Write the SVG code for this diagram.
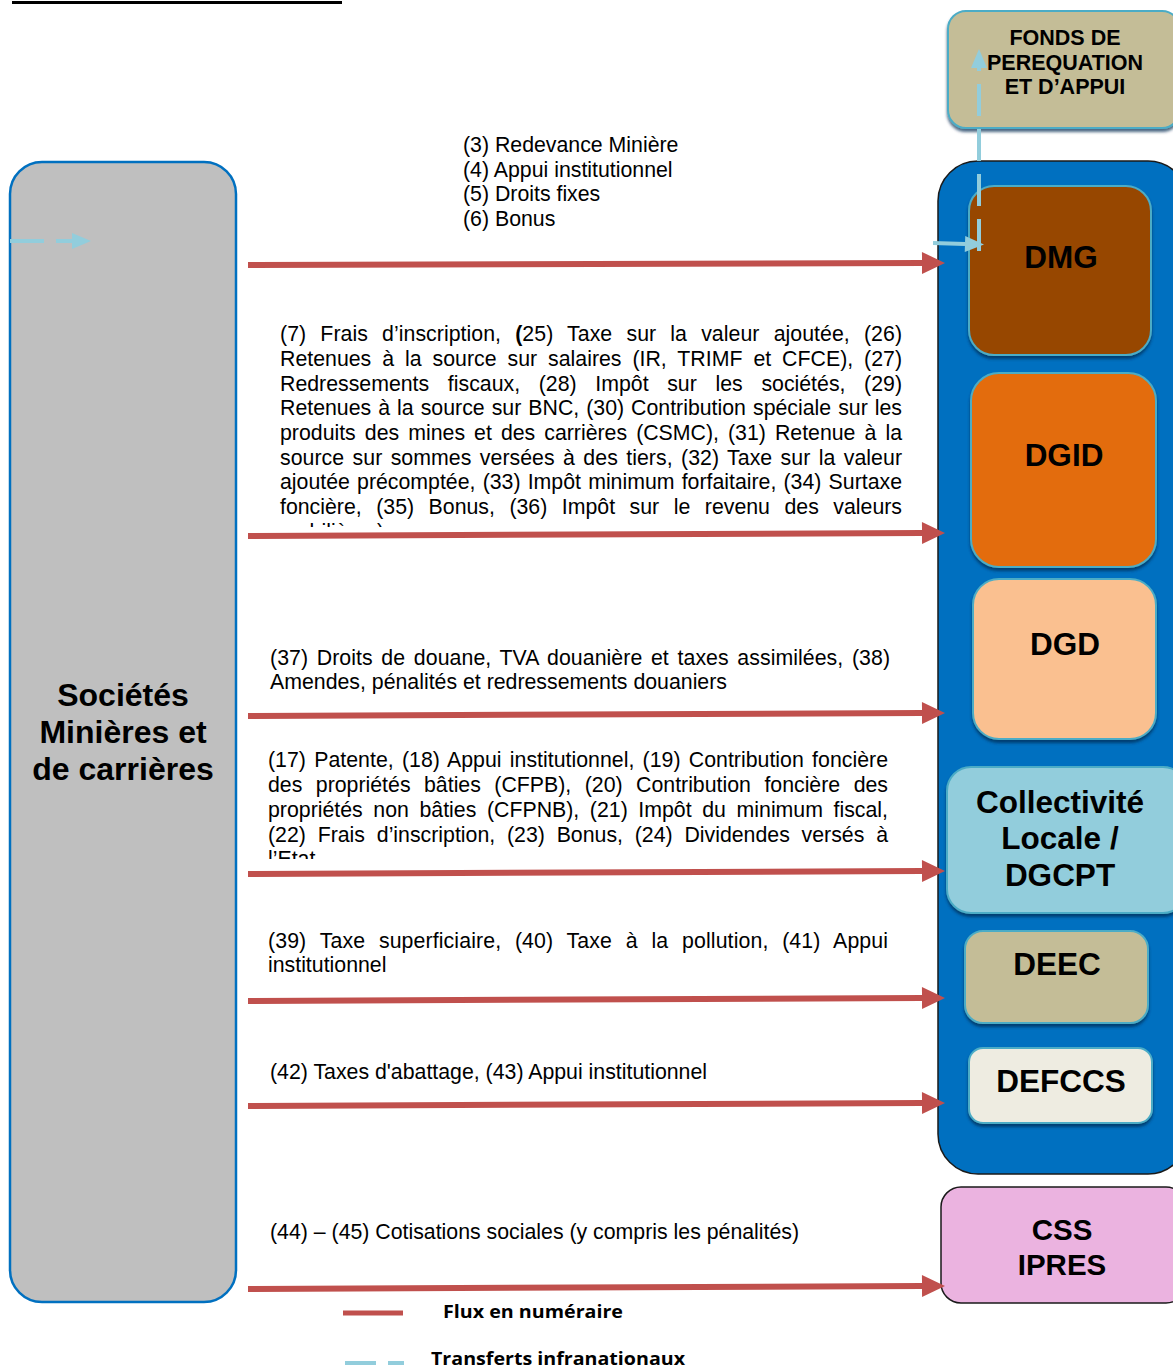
<svg xmlns="http://www.w3.org/2000/svg" width="1173" height="1371" viewBox="0 0 1173 1371">
<style>
.t{font-family:"Liberation Sans",Arial,sans-serif;font-size:21.3px;fill:#000}
.b{font-family:"Liberation Sans",Arial,sans-serif;font-weight:bold;fill:#000;text-anchor:middle}
.flow{stroke:#C0504D;stroke-width:6;fill:none}
.dash{stroke:#92CDDC;stroke-width:4;fill:none}
.inner{stroke:#4BACC6;stroke-width:2}
.leg{font-family:"Open Sans","Liberation Sans",sans-serif;font-weight:bold;font-size:18px;fill:#000}
</style>
<defs>
<marker id="ar" markerUnits="userSpaceOnUse" markerWidth="24" markerHeight="24" refX="0" refY="11" orient="auto" overflow="visible">
<path d="M0,0 L23,11 L0,22 z" fill="#C0504D"/>
</marker>
<marker id="ab" markerUnits="userSpaceOnUse" markerWidth="20" markerHeight="20" refX="0" refY="8" orient="auto" overflow="visible">
<path d="M0,0 L19,8 L0,16 z" fill="#92CDDC"/>
</marker>
<filter id="sh" x="-10%" y="-10%" width="120%" height="125%">
<feDropShadow dx="0" dy="3" stdDeviation="1.5" flood-color="#002850" flood-opacity="0.7"/>
</filter>
<clipPath id="c2"><rect x="270" y="320" width="650" height="207"/></clipPath>
<clipPath id="c4"><rect x="260" y="745" width="650" height="114"/></clipPath>
</defs>

<line x1="12" y1="2.5" x2="342" y2="2.5" stroke="#000" stroke-width="3"/>

<g id="societes">
<rect x="10" y="162" width="226" height="1140" rx="32" fill="#BFBFBF" stroke="#0070C0" stroke-width="2.5"/>
<text class="b" font-size="32" x="123" y="706">Sociétés</text>
<text class="b" font-size="32" x="123" y="743">Minières et</text>
<text class="b" font-size="32" x="123" y="780">de carrières</text>
</g>

<g id="fonds">
<rect x="948" y="11" width="232" height="117" rx="18" fill="#C4BD97" stroke="#4BACC6" stroke-width="2" filter="url(#sh)"/>
<text class="b" font-size="21.5" x="1065" y="45">FONDS DE</text>
<text class="b" font-size="21.5" x="1065" y="70">PEREQUATION</text>
<text class="b" font-size="21.5" x="1065" y="94">ET D’APPUI</text>
</g>

<g id="etat">
<rect x="938" y="161" width="250" height="1013" rx="40" fill="#0070C0" stroke="#1a1a1a" stroke-width="1.5"/>
</g>

<g id="dmg">
<rect x="969" y="186" width="182" height="169" rx="25" fill="#974706" class="inner" filter="url(#sh)"/>
<text class="b" font-size="31.5" x="1061" y="268">DMG</text>
</g>
<g id="dgid">
<rect x="971" y="373" width="185" height="194" rx="28" fill="#E36C09" class="inner" filter="url(#sh)"/>
<text class="b" font-size="31.5" x="1064" y="466">DGID</text>
</g>
<g id="dgd">
<rect x="973" y="579" width="183" height="160" rx="26" fill="#FAC090" class="inner" filter="url(#sh)"/>
<text class="b" font-size="31.5" x="1065" y="655">DGD</text>
</g>
<g id="collectivite">
<rect x="947" y="767" width="240" height="146" rx="24" fill="#92CDDC" class="inner" filter="url(#sh)"/>
<text class="b" font-size="31.5" x="1060" y="813">Collectivité</text>
<text class="b" font-size="31.5" x="1060" y="849">Locale /</text>
<text class="b" font-size="31.5" x="1060" y="886">DGCPT</text>
</g>
<g id="deec">
<rect x="965" y="931" width="183" height="92" rx="18" fill="#C4BD97" class="inner" filter="url(#sh)"/>
<text class="b" font-size="31.5" x="1057" y="975">DEEC</text>
</g>
<g id="defccs">
<rect x="969" y="1048" width="183" height="75" rx="14" fill="#EEECE1" class="inner" filter="url(#sh)"/>
<text class="b" font-size="31.5" x="1061" y="1092">DEFCCS</text>
</g>
<g id="css">
<rect x="941" y="1187" width="245" height="116" rx="20" fill="#EBB3E0" stroke="#1a1a1a" stroke-width="1.5"/>
<text class="b" font-size="29.5" x="1062" y="1240">CSS</text>
<text class="b" font-size="29.5" x="1062" y="1275">IPRES</text>
</g>

<g id="connectors">
<line class="flow" x1="248" y1="265" x2="922" y2="263" marker-end="url(#ar)"/>
<line class="flow" x1="248" y1="536" x2="922" y2="533" marker-end="url(#ar)"/>
<line class="flow" x1="248" y1="716" x2="922" y2="713" marker-end="url(#ar)"/>
<line class="flow" x1="248" y1="874" x2="922" y2="871" marker-end="url(#ar)"/>
<line class="flow" x1="248" y1="1001" x2="922" y2="998" marker-end="url(#ar)"/>
<line class="flow" x1="248" y1="1106" x2="922" y2="1103" marker-end="url(#ar)"/>
<line class="flow" x1="248" y1="1289" x2="922" y2="1286" marker-end="url(#ar)"/>
<line class="dash" x1="10" y1="241" x2="72" y2="241" stroke-dasharray="34 12" marker-end="url(#ab)"/>
<line class="dash" x1="933" y1="243" x2="965" y2="244" marker-end="url(#ab)"/>
<line class="dash" x1="979" y1="251" x2="979" y2="68" stroke-dasharray="32 13" marker-end="url(#ab)"/>
</g>

<g id="labels">
<text class="t" x="463" y="152">(3) Redevance Minière</text>
<text class="t" x="463" y="177">(4) Appui institutionnel</text>
<text class="t" x="463" y="201">(5) Droits fixes</text>
<text class="t" x="463" y="226">(6) Bonus</text>

<g clip-path="url(#c2)">
<text class="t" x="280" y="341" word-spacing="8.22" textLength="622" lengthAdjust="spacing">(7) Frais d’inscription, <tspan font-weight="bold">(</tspan>25) Taxe sur la valeur ajoutée, (26)</text>
<text class="t" x="280" y="366" word-spacing="5.03" textLength="622" lengthAdjust="spacing">Retenues à la source sur salaires (IR, TRIMF et CFCE), (27)</text>
<text class="t" x="280" y="391" word-spacing="12.76" textLength="622" lengthAdjust="spacing">Redressements fiscaux, (28) Impôt sur les sociétés, (29)</text>
<text class="t" x="280" y="415" word-spacing="1.12" textLength="622" lengthAdjust="spacing">Retenues à la source sur BNC, (30) Contribution spéciale sur les</text>
<text class="t" x="280" y="440" word-spacing="3.13" textLength="622" lengthAdjust="spacing">produits des mines et des carrières (CSMC), (31) Retenue à la</text>
<text class="t" x="280" y="465" word-spacing="2.42" textLength="622" lengthAdjust="spacing">source sur sommes versées à des tiers, (32) Taxe sur la valeur</text>
<text class="t" x="280" y="489" word-spacing="1.26" textLength="622" lengthAdjust="spacing">ajoutée précomptée, (33) Impôt minimum forfaitaire, (34) Surtaxe</text>
<text class="t" x="280" y="514" word-spacing="8.6" textLength="622" lengthAdjust="spacing">foncière, (35) Bonus, (36) Impôt sur le revenu des valeurs</text>
<text class="t" x="280" y="539">mobilières)</text>
</g>

<text class="t" x="270" y="665" word-spacing="2.72" textLength="620" lengthAdjust="spacing">(37) Droits de douane, TVA douanière et taxes assimilées, (38)</text>
<text class="t" x="270" y="689">Amendes, pénalités et redressements douaniers</text>

<g clip-path="url(#c4)">
<text class="t" x="268" y="767" word-spacing="2.31" textLength="620" lengthAdjust="spacing">(17) Patente, (18) Appui institutionnel, (19) Contribution foncière</text>
<text class="t" x="268" y="792" word-spacing="7.57" textLength="620" lengthAdjust="spacing">des propriétés bâties (CFPB), (20) Contribution foncière des</text>
<text class="t" x="268" y="817" word-spacing="4.7" textLength="620" lengthAdjust="spacing">propriétés non bâties (CFPNB), (21) Impôt du minimum fiscal,</text>
<text class="t" x="268" y="842" word-spacing="5.89" textLength="620" lengthAdjust="spacing">(22) Frais d’inscription, (23) Bonus, (24) Dividendes versés à</text>
<text class="t" x="268" y="866">l’Etat</text>
</g>

<text class="t" x="268" y="948" word-spacing="7.72" textLength="620" lengthAdjust="spacing">(39) Taxe superficiaire, (40) Taxe à la pollution, (41) Appui</text>
<text class="t" x="268" y="972">institutionnel</text>

<text class="t" x="270" y="1079">(42) Taxes d'abattage, (43) Appui institutionnel</text>
<text class="t" x="270" y="1239">(44) – (45) Cotisations sociales (y compris les pénalités)</text>
</g>

<g id="legend">
<line x1="343" y1="1313" x2="403" y2="1313" stroke="#C0504D" stroke-width="5"/>
<text class="leg" x="443" y="1318" textLength="180" lengthAdjust="spacingAndGlyphs">Flux en numéraire</text>
<line x1="345" y1="1363" x2="404" y2="1363" stroke="#92CDDC" stroke-width="4" stroke-dasharray="31 12"/>
<text class="leg" x="431" y="1365" font-size="17.5" textLength="254" lengthAdjust="spacingAndGlyphs">Transferts infranationaux</text>
</g>
</svg>
